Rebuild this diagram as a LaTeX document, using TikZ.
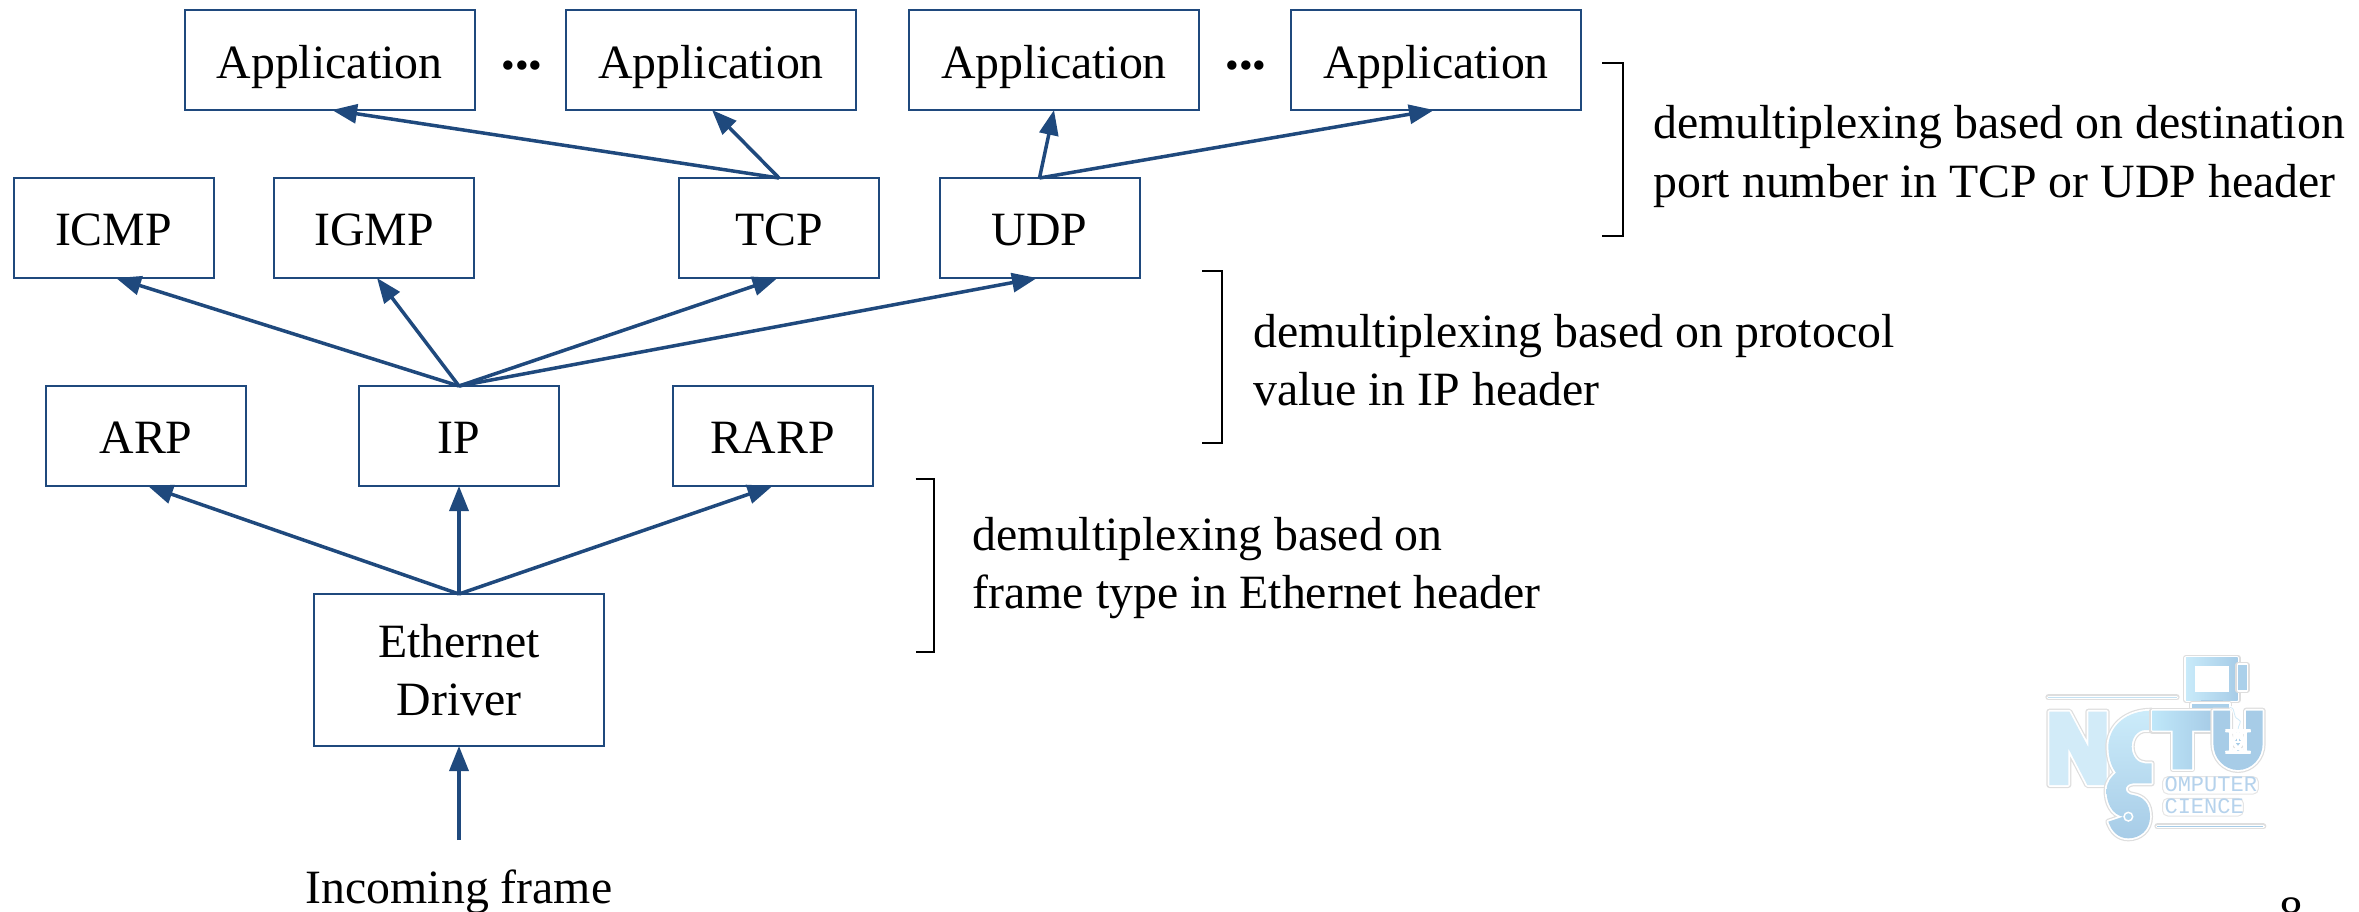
\documentclass[tikz,border=0pt]{standalone}
\usepackage{fontspec}
\setmainfont{Liberation Serif}
\newfontfamily\logomono{Liberation Mono}
\usetikzlibrary{arrows.meta}
\definecolor{navy}{HTML}{1F497D}
\definecolor{lgN}{HTML}{D2EBF8}
\definecolor{lgA}{HTML}{BFE7F9}
\definecolor{lgB}{HTML}{A7CCE7}
\definecolor{lgT}{HTML}{B5D2EC}
\tikzset{
  box/.style={draw=navy,line width=2pt,fill=white,inner sep=0pt,outer sep=0pt,font=\fontsize{47.8}{58}\selectfont},
  topbox/.style={box,minimum width=290pt,text height=68pt,text depth=32pt},
  midbox/.style={box,minimum width=200pt,text height=67pt,text depth=33pt},
  flow/.style={draw=navy,line width=3.5pt,-{Triangle[length=25pt,width=19pt]}},
  brace/.style={draw=black,line width=2pt},
  note/.style={anchor=base west,inner sep=0pt,font=\fontsize{47.8}{59}\selectfont},
  plain/.style={anchor=base,inner sep=0pt,font=\fontsize{47.8}{58}\selectfont},
  dots/.style={anchor=base,inner sep=0pt,font=\fontsize{39}{39}\selectfont},
  halo/.style={preaction={draw=black!13,line width=6pt,line join=round},preaction={draw=white,line width=3.6pt,line join=round}},
  logotext/.style={anchor=base west,inner sep=0pt,text=lgT,font=\logomono\fontsize{22}{22}\selectfont}
}
\begin{document}
\begin{tikzpicture}[x=1pt,y=-1pt]
\useasboundingbox (0,0) rectangle (2359,911);
\clip (0,0) rectangle (2359,911);

% logo
\begin{scope}[shift={(1980,620)},x=0.33333pt,y=-0.33333pt]
  \draw[black!13,line width=6pt,line cap=round] (205,232) -- (590,232);
  \draw[white,line width=3.6pt,line cap=round] (205,232) -- (590,232);
  \draw[lgN!70!lgB,line width=1.2pt] (205,232) -- (590,232);
  \draw[black!13,line width=6pt,line cap=round] (532,619) -- (850,619);
  \draw[white,line width=3.6pt,line cap=round] (532,619) -- (850,619);
  \draw[lgB,line width=1.2pt] (532,619) -- (850,619);
  % monitor
  \path[halo,left color=lgA!85!white,right color=lgB] (618,113) -- (773,113) -- (773,240) -- (618,240) -- cycle;
  \path[halo,fill=lgB!85!lgA] (775,135) -- (800,135) -- (800,210) -- (775,210) -- cycle;
  \path[fill=lgB] (662,240) -- (728,240) -- (728,248) -- (662,248) -- cycle;
  \path[halo,fill=lgB!85!lgA] (636,252) -- (748,252) -- (748,266) -- (636,266) -- cycle;
  \draw[draw=black!20,fill=white,line width=1pt] (652,146) rectangle (738,208);
  \draw[white,line width=3pt] (648,142) rectangle (742,212);
  % N
  \path[halo,fill=lgN] (208,275) -- (268,275) -- (325,382) -- (325,275) -- (380,275) -- (380,495) -- (322,495) -- (265,385) -- (265,495) -- (208,495) -- cycle;
  % S
  \path[halo,top color=lgA!80!white,bottom color=lgB] (515,272) -- (515,330) -- (495,330)
     .. controls (470,332) and (455,355) .. (455,380)
     .. controls (455,410) and (475,430) .. (495,430) -- (515,430) -- (515,490) -- (460,490)
     .. controls (430,492) and (430,522) .. (460,525)
     .. controls (490,530) and (510,550) .. (510,590)
     .. controls (510,630) and (480,655) .. (445,655)
     .. controls (415,655) and (395,635) .. (385,605) -- (430,590)
     .. controls (395,585) and (378,545) .. (380,510)
     .. controls (380,485) and (395,470) .. (408,458)
     .. controls (390,435) and (385,405) .. (385,375)
     .. controls (390,315) and (440,272) .. (515,272) -- cycle;
  \draw[draw=white,fill=lgB!70!lgA,line width=1.5pt] (445,590) circle (13);
  % T
  \path[halo,left color=lgA,right color=lgB] (517,272) -- (695,272) -- (695,332) -- (636,332) -- (636,448) -- (578,448) -- (578,332) -- (517,332) -- cycle;
  % U
  \path[halo,fill=lgB] (700,272) -- (750,272) -- (750,370) .. controls (750,382) and (760,396) .. (774,396)
     .. controls (788,396) and (798,382) .. (798,370) -- (798,272) -- (848,272) -- (848,370)
     .. controls (848,415) and (815,450) .. (774,450)
     .. controls (733,450) and (700,415) .. (700,370) -- cycle;
  % mouse
  \draw[white,line width=3pt] (750,262) .. controls (770,265) and (755,290) .. (775,298) .. controls (790,305) and (772,315) .. (774,332);
  \draw[lgN,line width=0.8pt] (750,262) .. controls (770,265) and (755,290) .. (775,298) .. controls (790,305) and (772,315) .. (774,332);
  \draw[draw=white,fill=lgB,line width=3pt,rounded corners=20pt] (752,332) rectangle (796,397);
  \draw[white,line width=2pt] (752,365) -- (796,365) (774,335) -- (774,365);
  % mono text
  \draw[black!10,fill=white,line width=1pt,rounded corners=5pt] (548,470) rectangle (835,522);
  \draw[black!10,fill=white,line width=1pt,rounded corners=5pt] (548,535) rectangle (790,588);
  \node[logotext] (logoa) at (553,515) {OMPUTER};
  \node[logotext] (logob) at (553,580) {CIENCE};
\end{scope}

% boxes
\node[topbox] (app1) at (329.5,60) {Application};
\node[topbox] (app2) at (711,60) {Application};
\node[topbox] (app3) at (1054,60) {Application};
\node[topbox] (app4) at (1436,60) {Application};
\node[dots] (dotsa) at (522,78.5) {•••};
\node[dots] (dotsb) at (1246,78.5) {•••};

\node[midbox] (icmp) at (113.5,228) {ICMP};
\node[midbox] (igmp) at (374,228) {IGMP};
\node[midbox] (tcp) at (779,228) {TCP};
\node[midbox] (udp) at (1039.5,228) {UDP};

\node[midbox] (arp) at (146,436) {ARP};
\node[midbox] (ip) at (459,436) {IP};
\node[midbox] (rarp) at (772.5,436) {RARP};

\node[box,minimum width=290pt,minimum height=152pt,align=center] (eth) at (459,670) {Ethernet\\Driver};
\coordinate (inc) at (459,840);
\node[plain] (frame) at (459,903) {Incoming frame};

% arrows
\draw[flow] (tcp.north) -- ([xshift=2.5pt]app1.south);
\draw[flow] (tcp.north) -- ([xshift=1pt]app2.south);
\draw[flow] (udp.north) -- (app3.south);
\draw[flow] (udp.north) -- ([xshift=-2pt]app4.south);
\draw[flow] (ip.north) -- ([xshift=2.5pt]icmp.south);
\draw[flow] (ip.north) -- ([xshift=3pt]igmp.south);
\draw[flow] (ip.north) -- ([xshift=-1.5pt]tcp.south);
\draw[flow] (ip.north) -- ([xshift=-2.5pt]udp.south);
\draw[flow] (eth.north) -- ([xshift=2pt]arp.south);
\draw[flow] (eth.north) -- (ip.south);
\draw[flow] (eth.north) -- (rarp.south);
\draw[flow] (inc) -- (eth.south);

% brackets and notes
\draw[brace] (1602,63) -- (1623,63) -- (1623,236) -- (1602,236);
\draw[brace] (1202,271) -- (1222,271) -- (1222,443) -- (1202,443);
\draw[brace] (915.5,479) -- (934,479) -- (934,652) -- (915.5,652);
\node[note] (na) at (1653,138) {demultiplexing based on destination};
\node[note] (nb) at (1653,197) {port number in TCP or UDP header};
\node[note] (nc) at (1253,347) {demultiplexing based on protocol};
\node[note] (nd) at (1253,405) {value in IP header};
\node[note] (ne) at (972.5,550) {demultiplexing based on};
\node[note] (nf) at (972.5,608) {frame type in Ethernet header};

\node[plain] (page) at (2291,929) {8};
\end{tikzpicture}
\end{document}
